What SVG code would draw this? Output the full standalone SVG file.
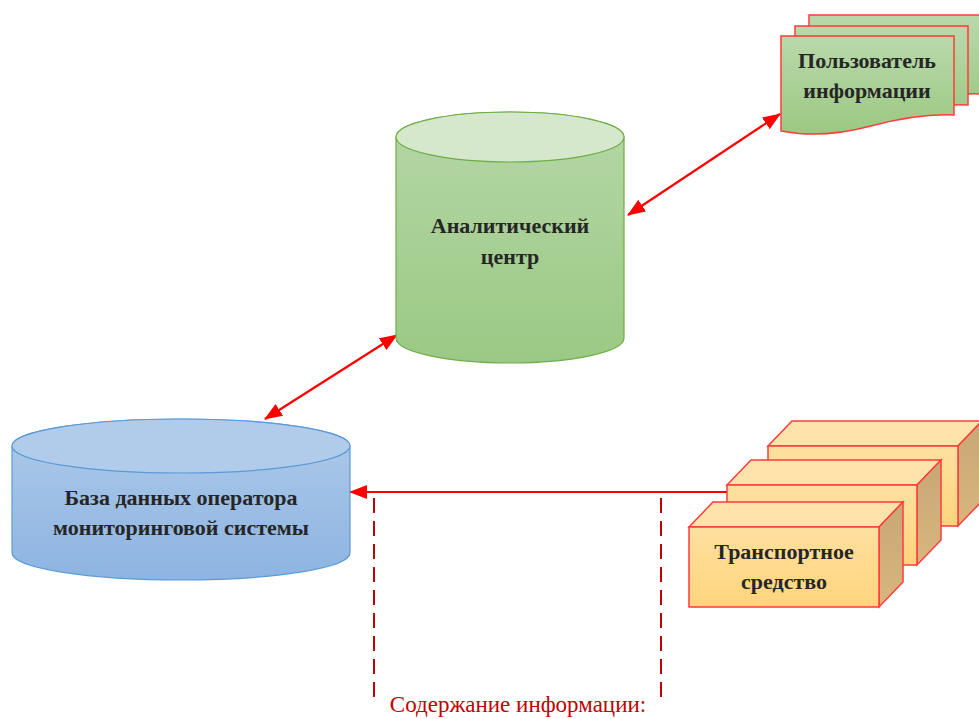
<svg xmlns="http://www.w3.org/2000/svg" width="979" height="719" viewBox="0 0 979 719">
<style>
.lbl{font-family:"Liberation Serif","Times New Roman",serif;font-weight:bold;font-size:22px;fill:#262626;text-anchor:middle}
.cap{font-family:"Liberation Serif","Times New Roman",serif;font-size:23px;fill:#C00000;text-anchor:middle}
.arr{stroke:#FF0000;stroke-width:2.2;fill:none}
.dash{stroke:#C00000;stroke-width:2;fill:none;stroke-dasharray:15 8}
.doc{fill:url(#gDoc);stroke:#FF3B3B;stroke-width:1.5}
.bf{fill:url(#gFront);stroke:#FF3B3B;stroke-width:1.5}
.bt{fill:#FFE3AA;stroke:#FF3B3B;stroke-width:1.5}
.br{fill:url(#gSide);stroke:#FF3B3B;stroke-width:1.5}
</style>
<defs>
<linearGradient id="gGreen" x1="0" y1="0" x2="0" y2="1"><stop offset="0" stop-color="#B5D7A6"/><stop offset="1" stop-color="#9BC985"/></linearGradient>
<linearGradient id="gBlue" x1="0" y1="0" x2="0" y2="1"><stop offset="0" stop-color="#AECAE9"/><stop offset="1" stop-color="#8DB4E2"/></linearGradient>
<linearGradient id="gDoc" x1="0" y1="0" x2="0" y2="1"><stop offset="0" stop-color="#B9D9AB"/><stop offset="1" stop-color="#9CC882"/></linearGradient>
<linearGradient id="gFront" x1="0" y1="0" x2="0" y2="1"><stop offset="0" stop-color="#FFE0A0"/><stop offset="1" stop-color="#FFD47C"/></linearGradient>
<linearGradient id="gSide" x1="0" y1="0" x2="0" y2="1"><stop offset="0" stop-color="#C8A775"/><stop offset="1" stop-color="#D9B67E"/></linearGradient>
<marker id="ah" viewBox="0 0 18 14" refX="17" refY="7" markerWidth="18" markerHeight="14" markerUnits="userSpaceOnUse" orient="auto-start-reverse"><path d="M0,0 L18,7 L0,14 Z" fill="#FF0000"/></marker>
<path id="docShape" d="M0,0 H173 V79 C150,78 120,82 90,90 C60,98 30,101 0,95 Z"/>
<g id="boxShape">
<polygon points="0,0 24,-25 214,-25 190,0" class="bt"/>
<polygon points="190,0 214,-25 214,55 190,80" class="br"/>
<rect x="0" y="0" width="190" height="80" class="bf"/>
</g>
</defs>

<g id="connectors">
<line x1="265" y1="419" x2="397" y2="335" class="arr" marker-start="url(#ah)" marker-end="url(#ah)"/>
<line x1="628" y1="215" x2="780" y2="114" class="arr" marker-start="url(#ah)" marker-end="url(#ah)"/>
<line x1="728" y1="492" x2="350" y2="492" class="arr" marker-end="url(#ah)"/>
<line x1="374" y1="498" x2="374" y2="700" class="dash"/>
<line x1="661" y1="498" x2="661" y2="700" class="dash"/>
</g>

<g id="analytic">
<path d="M396,137 L396,338 A114,25 0 0 0 624,338 L624,137 A114,25 0 0 0 396,137 Z" fill="url(#gGreen)" stroke="#70AD47" stroke-width="1.2"/>
<ellipse cx="510" cy="137" rx="114" ry="25" fill="#D5E8CC" stroke="#70AD47" stroke-width="1.2"/>
<text class="lbl" x="510" y="233">Аналитический</text>
<text class="lbl" x="510" y="264">центр</text>
</g>

<g id="database">
<path d="M12,446 L12,553 A169,27 0 0 0 350,553 L350,446 A169,27 0 0 0 12,446 Z" fill="url(#gBlue)" stroke="#5B9BD5" stroke-width="1.2"/>
<ellipse cx="181" cy="446" rx="169" ry="27" fill="#B0CCEA" stroke="#5B9BD5" stroke-width="1.2"/>
<text class="lbl" x="181" y="505">База данных оператора</text>
<text class="lbl" x="181" y="535">мониторинговой системы</text>
</g>

<g id="user">
<use href="#docShape" x="809" y="15" class="doc"/>
<use href="#docShape" x="795" y="26" class="doc"/>
<use href="#docShape" x="781" y="36" class="doc"/>
<text class="lbl" x="867" y="68">Пользователь</text>
<text class="lbl" x="867" y="98">информации</text>
</g>

<g id="vehicle">
<use href="#boxShape" x="768" y="446"/>
<use href="#boxShape" x="727" y="485"/>
<use href="#boxShape" x="689" y="527"/>
<text class="lbl" x="784" y="559">Транспортное</text>
<text class="lbl" x="784" y="589">средство</text>
</g>

<g id="caption">
<text class="cap" x="518" y="712">Содержание информации:</text>
</g>
</svg>
